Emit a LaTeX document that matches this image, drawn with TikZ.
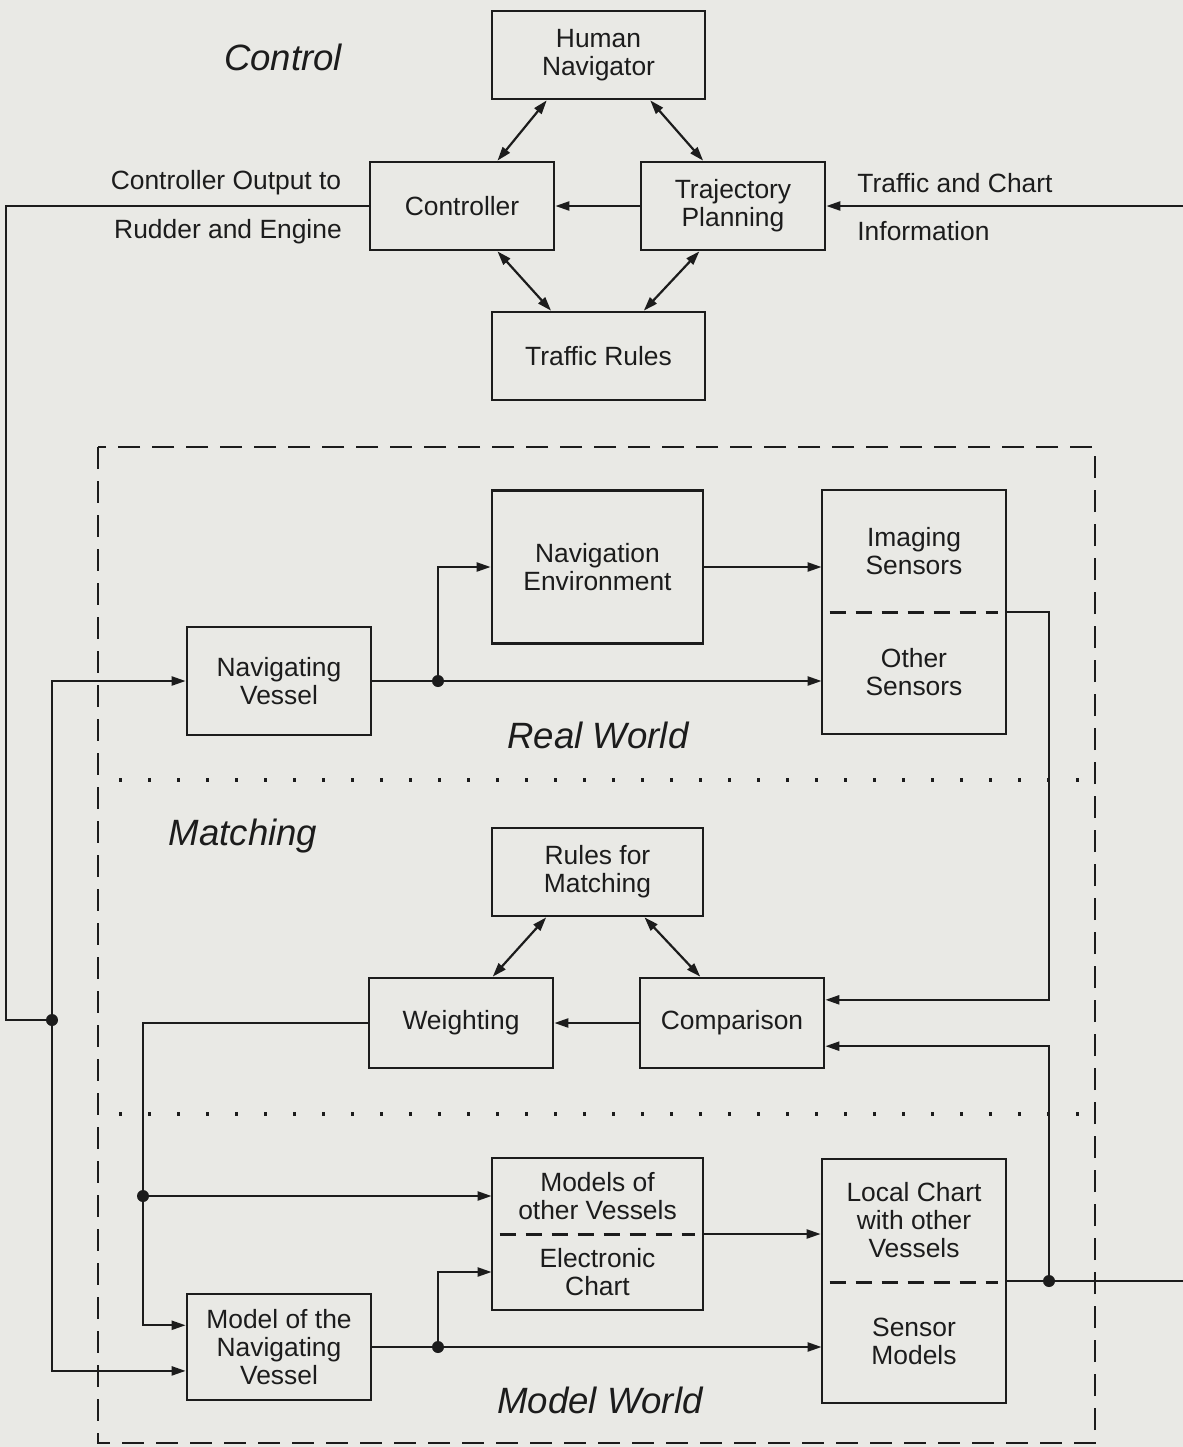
\documentclass[tikz,border=0pt]{standalone}
\usepackage{fontspec}
\setmainfont{Liberation Sans}
\usetikzlibrary{calc}
\usetikzlibrary{arrows.meta}
\definecolor{paper}{RGB}{233,233,229}
\definecolor{ink}{RGB}{28,28,28}
\tikzset{%
  blk/.style = {rectangle,draw=ink,line width=1.35pt,inner sep=0pt,
        align=center,text=ink,font=\fontsize{13.2}{14}\selectfont},
  half/.style = {rectangle,inner sep=0pt,align=center,text=ink,
        font=\fontsize{13.2}{14}\selectfont},
  lbl/.style = {inner sep=0pt,text=ink,font=\fontsize{13.2}{14}\selectfont},
  area/.style = {inner sep=0pt,text=ink,
        font=\fontsize{18.3}{20}\selectfont\itshape},
  wire/.style = {draw=ink,line width=1.1pt},
  flow/.style = {wire,-{Triangle[length=7pt,width=4.5pt]}},
  link/.style = {wire,{Triangle[length=7pt,width=4.5pt]}-{Triangle[length=7pt,width=4.5pt]}},
  dot/.style = {circle,fill=ink,inner sep=0pt,minimum size=6pt},
  frame/.style = {draw=ink,line width=1.4pt,dash pattern=on 11pt off 6pt},
  divide/.style = {draw=ink,line width=1.2pt,dash pattern=on 8pt off 5pt},
  sep/.style = {draw=ink,line width=1.8pt,dash pattern=on 1.6pt off 12.9pt}
}

\begin{document}
\begin{tikzpicture}[x=0.5pt,y=-0.5pt]
  \fill[paper] (0,0) rectangle (1183,1447);
  \useasboundingbox (0,0) rectangle (1183,1447);

  % control loop
  \node[blk,minimum width=106.5pt,minimum height=44pt] (hn) at (598.5,55) {Human\\Navigator};
  \node[blk,minimum width=92pt,minimum height=44pt] (ctrl) at (462,206) {Controller};
  \node[blk,minimum width=92pt,minimum height=44pt] (tp) at (733,206) {Trajectory\\Planning};
  \node[blk,minimum width=106.5pt,minimum height=44pt] (tr) at (598.5,356) {Traffic Rules};

  % real world
  \node[blk,minimum width=105.5pt,minimum height=76.5pt] (navenv) at (597.5,567) {Navigation\\Environment};
  \node[blk,minimum width=92pt,minimum height=54pt] (nv) at (279,681) {Navigating\\Vessel};
  \node[blk,minimum width=92pt,minimum height=122pt] (sens) at (914,612) {};
  \node[half,minimum width=92pt,minimum height=61pt] (img) at (914,551) {Imaging\\Sensors};
  \node[half,minimum width=92pt,minimum height=60.5pt] (oth) at (914,672.5) {Other\\Sensors};

  % matching
  \node[blk,minimum width=105.5pt,minimum height=44pt] (rfm) at (597.5,872) {Rules for\\Matching};
  \node[blk,minimum width=92pt,minimum height=45pt] (wgt) at (461,1023) {Weighting};
  \node[blk,minimum width=92pt,minimum height=45pt] (cmp) at (732,1023) {Comparison};

  % model world
  \node[blk,minimum width=105.5pt,minimum height=76pt] (mods) at (597.5,1234) {};
  \node[half,minimum width=105.5pt,minimum height=38pt] (mov) at (597.5,1196) {Models of\\other Vessels};
  \node[half,minimum width=105.5pt,minimum height=38pt] (echart) at (597.5,1272) {Electronic\\Chart};
  \node[blk,minimum width=92pt,minimum height=53pt] (mnv) at (279,1347) {Model of the\\Navigating\\Vessel};
  \node[blk,minimum width=92pt,minimum height=122pt] (loc) at (914,1281) {};
  \node[half,minimum width=92pt,minimum height=62pt] (lcv) at (914,1220) {Local Chart\\with other\\Vessels};
  \node[half,minimum width=92pt,minimum height=60pt] (smod) at (914,1341) {Sensor\\Models};

  \draw[divide] ($(img.south west)+(8,0)$) -- ($(img.south east)-(8,0)$);
  \draw[divide] ($(mov.south west)+(8,0)$) -- ($(mov.south east)-(8,0)$);
  \draw[divide] ($(lcv.south west)+(8,0)$) -- ($(lcv.south east)-(8,0)$);

  % region labels and separators
  \node[area] (lcontrol) at (283,57) {Control};
  \node[area] (lreal) at (598,735) {Real World};
  \node[area] (lmatch) at (243,836) {Matching};
  \node[area] (lmodel) at (600,1400) {Model World};
  \draw[frame] (98,447) rectangle (1095,1443);
  \draw[sep] (119,780) -- (1093,780);
  \draw[sep] (119,1114) -- (1093,1114);

  % junctions and free ends
  \node[dot] (j1) at (52,1020) {};
  \node[dot] (j2) at (438,681) {};
  \node[dot] (j3) at (143,1196) {};
  \node[dot] (j4) at (1049,1281) {};
  \node[dot] (j5) at (438,1347) {};
  \coordinate (bend) at (6,1020);
  \coordinate (chartin) at (1183,206);
  \coordinate (chartout) at (1183,1281);
  \coordinate (cin) at ($(cmp.north east)!.25!(cmp.south east)$);
  \coordinate (cin2) at ($(cmp.north east)!.75!(cmp.south east)$);
  \coordinate (min) at ($(mnv.north west)!.3!(mnv.south west)$);
  \coordinate (min2) at ($(mnv.north west)!.72!(mnv.south west)$);

  % control connections
  \draw[link] ($(hn.south west)!.26!(hn.south east)$) -- ($(ctrl.north west)!.69!(ctrl.north east)$);
  \draw[link] ($(hn.south west)!.74!(hn.south east)$) -- ($(tp.north west)!.34!(tp.north east)$);
  \draw[link] ($(ctrl.south west)!.69!(ctrl.south east)$) -- ($(tr.north west)!.28!(tr.north east)$);
  \draw[link] ($(tp.south west)!.32!(tp.south east)$) -- ($(tr.north west)!.71!(tr.north east)$);
  \draw[flow] (tp.west) -- (ctrl.east);
  \draw[flow] (chartin) -- (tp.east);
  \node[lbl] (outa) at (226,183) {Controller Output to};
  \node[lbl] (outb) at (228,232) {Rudder and Engine};
  \node[lbl,anchor=west] (tca) at (857,183) {Traffic and Chart};
  \node[lbl,anchor=west] (tcb) at (857,231) {Information};
  \draw[wire] (ctrl.west) -| (bend) -- (j1);

  % real world connections
  \draw[flow] (j1) |- (nv.west);
  \draw[flow] (j1) |- (min2);
  \draw[wire] (nv.east) -- (j2);
  \draw[flow] (j2) -- (j2 -| oth.west);
  \draw[flow] (j2) |- (navenv.west);
  \draw[flow] (navenv.east) -- (navenv.east -| img.west);
  \draw[flow] (sens.east) -| (j4 |- cin) -- (cin);

  % matching connections
  \draw[link] ($(rfm.south west)!.26!(rfm.south east)$) -- ($(wgt.north west)!.67!(wgt.north east)$);
  \draw[link] ($(rfm.south west)!.72!(rfm.south east)$) -- ($(cmp.north west)!.33!(cmp.north east)$);
  \draw[flow] (cmp.west) -- (wgt.east);
  \draw[flow] (wgt.west) -| (j3 |- min) -- (min);
  \draw[flow] (j3) -- (j3 -| mov.west);

  % model world connections
  \draw[wire] (mnv.east) -- (j5);
  \draw[flow] (j5) -- (j5 -| smod.west);
  \draw[flow] (j5) |- (echart.west);
  \draw[flow] (mods.east) -- (mods.east -| loc.west);
  \draw[wire] (loc.east) -- (chartout);
  \draw[flow] (j4) |- (cin2);
\end{tikzpicture}
\end{document}
